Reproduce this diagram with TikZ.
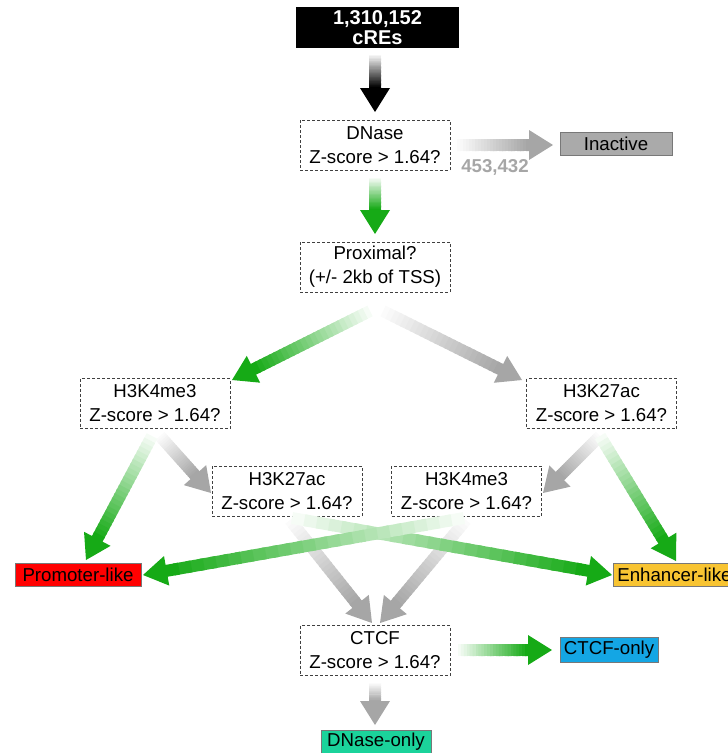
\documentclass[tikz,border=0pt]{standalone}
\usepackage{fontspec}
\setmainfont{Liberation Sans}
\usetikzlibrary{calc}
\definecolor{gr}{RGB}{22,170,22}
\definecolor{gy}{RGB}{166,166,166}
\definecolor{bk}{RGB}{0,0,0}
\definecolor{inact}{RGB}{170,170,170}
\definecolor{promo}{RGB}{255,0,0}
\definecolor{enh}{RGB}{248,196,50}
\definecolor{ctcfc}{RGB}{20,166,228}
\definecolor{dnasec}{RGB}{27,211,155}
\definecolor{edge}{RGB}{120,120,120}
\tikzset{
  qbox/.style={draw=black!75, dash pattern=on 2.25pt off 1.5pt, line width=0.6pt,
    minimum width=112.5pt, minimum height=37.5pt, align=center, inner sep=1pt,
    font=\fontsize{14}{18}\selectfont},
  cbox/.style={draw=edge, line width=0.6pt, minimum height=17.25pt, inner sep=1pt,
    font=\fontsize{14}{16}\selectfont},
  shaft/.style={line width=9pt, line cap=butt},
}
\newcommand\gradarrow[3]{%
  \path ($(#2)!18pt!(#1)$) coordinate (hb);
  \foreach \k in {0,...,23}{%
    \pgfmathtruncatemacro\pc{4+96*\k/23}%
    \draw[shaft,#3!\pc!white] ($(#1)!{\k/24}!(hb)$) -- ($(#1)!{(\k+1.4)/24}!(hb)$);
  }%
  \fill[#3] ($(hb)!11.25pt!90:(#2)$) -- (#2) -- ($(hb)!11.25pt!-90:(#2)$) -- cycle;
}
\begin{document}
\begin{tikzpicture}[x=0.75pt,y=-0.75pt]
\useasboundingbox (0,0) rectangle (728,753);
\clip (0,0) rectangle (728,753);
% nodes
\node[fill=black, text=white, minimum width=122.25pt, minimum height=30.75pt, align=center,
  inner sep=1pt, font=\bfseries\fontsize{15}{15}\selectfont] (top) at (377.5,27.5) {1,310,152\\cREs};
\node[qbox] (dnase) at (375,145) {DNase\\Z-score > 1.64?};
\node[cbox, fill=inact, minimum width=84pt] (inactive) at (616,143.5) {Inactive};
\node[text=gy, font=\bfseries\fontsize{14}{14}\selectfont] (count) at (495,167) {453,432};
\node[qbox] (prox) at (375,267) {Proximal?\\(+/- 2kb of TSS)};
\node[qbox] (k4l) at (155,403.5) {H3K4me3\\Z-score > 1.64?};
\node[qbox] (k27r) at (601.5,403.5) {H3K27ac\\Z-score > 1.64?};
\node[qbox] (k27m) at (287,491) {H3K27ac\\Z-score > 1.64?};
\node[qbox] (k4m) at (466.5,491) {H3K4me3\\Z-score > 1.64?};
\node[cbox, fill=promo, minimum width=94.5pt] (promoter) at (78,574.5) {Promoter-like};
\node[cbox, fill=enh, anchor=west, inner xsep=3pt] (enhancer) at (613,574.5) {Enhancer-like};
\node[qbox] (ctcf) at (375,650.5) {CTCF\\Z-score > 1.64?};
\node[cbox, fill=ctcfc, minimum width=73.5pt, minimum height=18.75pt] (ctcfonly) at (609,649.5) {CTCF-only};
\node[cbox, fill=dnasec, minimum width=82.5pt] (dnaseonly) at (376,742) {DNase-only};
% arrow ends
\coordinate (s1) at (375,55);   \coordinate (t1) at (375,112);
\coordinate (s2) at (457,145);  \coordinate (t2) at (553,145);
\coordinate (s3) at (375,178);  \coordinate (t3) at (375,234);
\coordinate (s4) at (370,311);  \coordinate (t4) at (232,380);
\coordinate (s5) at (383,311);  \coordinate (t5) at (522,380);
\coordinate (s6) at (152,436);  \coordinate (t6) at (86,560);
\coordinate (s7) at (160,436);  \coordinate (t7) at (211,493);
\coordinate (s8) at (600,436);  \coordinate (t8) at (543,493);
\coordinate (s9) at (600,436);  \coordinate (t9) at (676,561);
\coordinate (s10) at (292,518); \coordinate (t10) at (612,575);
\coordinate (s11) at (464,518); \coordinate (t11) at (143,575);
\coordinate (s12) at (290,520); \coordinate (t12) at (372,623);
\coordinate (s13) at (466,520); \coordinate (t13) at (380,623);
\coordinate (s14) at (458,650); \coordinate (t14) at (552,650);
\coordinate (s15) at (375,683); \coordinate (t15) at (375,725);
% arrows
\gradarrow{s1}{t1}{bk}
\gradarrow{s2}{t2}{gy}
\gradarrow{s3}{t3}{gr}
\gradarrow{s5}{t5}{gy}
\gradarrow{s4}{t4}{gr}
\gradarrow{s7}{t7}{gy}
\gradarrow{s8}{t8}{gy}
\gradarrow{s6}{t6}{gr}
\gradarrow{s9}{t9}{gr}
\gradarrow{s12}{t12}{gy}
\gradarrow{s13}{t13}{gy}
\gradarrow{s10}{t10}{gr}
\gradarrow{s11}{t11}{gr}
\gradarrow{s14}{t14}{gr}
\gradarrow{s15}{t15}{gy}
\end{tikzpicture}
\end{document}
